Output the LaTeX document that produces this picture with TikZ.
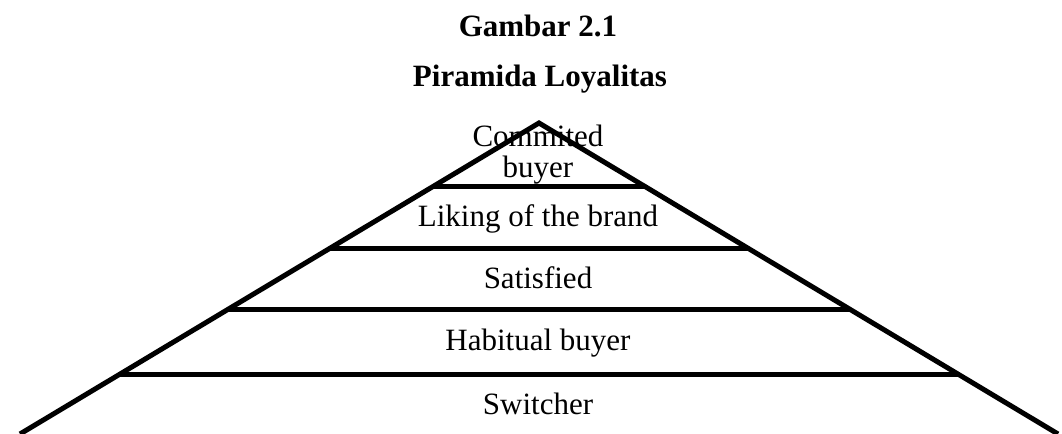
\documentclass[tikz,border=0pt]{standalone}
\usepackage{fontspec}
\setmainfont{Liberation Serif}
\usetikzlibrary{calc}

\begin{document}
\begin{tikzpicture}[x=0.5pt, y=0.5pt,
    edge/.style={draw, line width=2.5pt},
    level/.style={anchor=base, inner sep=0pt, align=center,
      font=\fontsize{15.5}{15.5}\selectfont},
    heading/.style={level, font=\fontsize{15.5}{15.5}\selectfont\bfseries}]
  \useasboundingbox (0,0) rectangle (1062,434);

  \node[heading] (fig) at (538,397) {Gambar 2.1};
  \node[heading] (caption) at (540,347) {Piramida Loyalitas};

  \coordinate (top) at (539,311);
  \coordinate (bl) at (20,0);
  \coordinate (br) at (1058,0);
  \draw[edge] (bl) -- (top) -- (br);

  % floors of the pyramid
  \foreach \t in {0.203, 0.402, 0.601, 0.81}
    \draw[edge] ($(top)!\t!(bl)$) -- ($(top)!\t!(br)$);

  \node[level] (committed) at (538,256) {Commited\\buyer};
  \node[level] (liking) at (538,207) {Liking of the brand};
  \node[level] (satisfied) at (538,145) {Satisfied};
  \node[level] (habitual) at (538,83) {Habitual buyer};
  \node[level] (switcher) at (538,19) {Switcher};
\end{tikzpicture}
\end{document}
